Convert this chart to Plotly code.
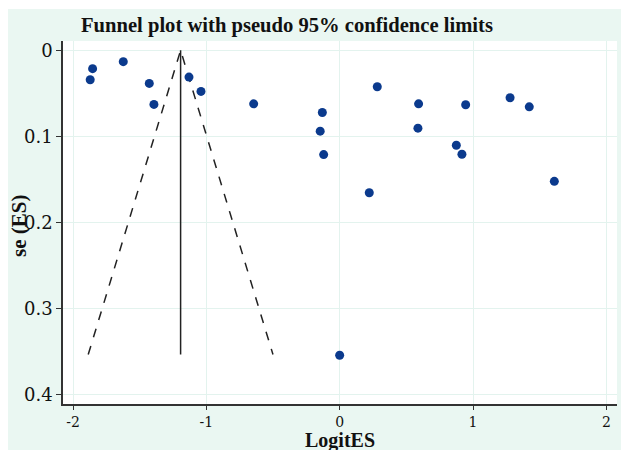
import plotly.graph_objects as go

# Study data: logit effect size and its standard error
logit_es = [-1.853, -1.871, -1.623, -1.428, -1.393, -1.130, -1.040, -0.645,
            -0.130, -0.146, -0.120, 0.282, 0.222, 0.592, 0.587, 0.945,
            0.875, 0.917, 1.278, 1.422, 1.610, 0.000]
se_es = [0.0213, 0.0342, 0.0132, 0.0385, 0.0629, 0.0311, 0.0478, 0.0622,
         0.0723, 0.0940, 0.1212, 0.0423, 0.1655, 0.0622, 0.0905, 0.0633,
         0.1103, 0.1208, 0.0552, 0.0657, 0.1523, 0.3543]

# Funnel (pseudo 95% limits)
pooled = -1.193
se_max = 0.3535
z95 = 1.96

x_ticks = [-2, -1, 0, 1, 2]
x_ticklabels = ["-2", "-1", "0", "1", "2"]
y_ticks = [0, 0.1, 0.2, 0.3, 0.4]
y_ticklabels = ["0", "0.1", "0.2", "0.3", "0.4"]

MINT = "#eaf7f2"
GRID = "#e3f3ee"
FONT = "Liberation Serif"
TICKFONT = "DejaVu Serif"
AX = "#333333"

fig = go.Figure()

fig.add_trace(go.Scatter(
    x=[pooled - z95 * se_max, pooled, pooled + z95 * se_max],
    y=[se_max, 0, se_max],
    mode="lines", line=dict(color="#222222", width=1.5, dash="dash"),
    hoverinfo="skip", showlegend=False))
fig.add_trace(go.Scatter(
    x=[pooled, pooled], y=[0, se_max],
    mode="lines", line=dict(color="#222222", width=1.5),
    hoverinfo="skip", showlegend=False))
fig.add_trace(go.Scatter(
    x=logit_es, y=se_es, mode="markers",
    marker=dict(color="#0b3a8d", size=9),
    showlegend=False))

W, H = 621, 450
L, R, T, B = 63, 4, 41, 46
pw, ph = W - L - R, H - T - B

def px_x(px):
    return (px - L) / pw

def px_y(py):
    return (H - B - py) / ph

fig.update_layout(
    width=W, height=H,
    margin=dict(l=L, r=R, t=T, b=B),
    paper_bgcolor=MINT,
    plot_bgcolor="white",
    font=dict(family=FONT, size=18, color="#111111"),
    showlegend=False,
    shapes=[
        dict(type="rect", xref="paper", yref="paper", layer="below",
             x0=px_x(0), x1=px_x(W), y0=px_y(9), y1=px_y(0),
             fillcolor="white", line=dict(width=0)),
        dict(type="rect", xref="paper", yref="paper", layer="below",
             x0=px_x(0), x1=px_x(8), y0=px_y(H), y1=px_y(0),
             fillcolor="white", line=dict(width=0)),
    ],
    annotations=[
        dict(text="<b>Funnel plot with pseudo 95% confidence limits</b>",
             xref="paper", yref="paper", x=px_x(287), y=px_y(26),
             xanchor="center", yanchor="middle", showarrow=False,
             font=dict(family=FONT, size=20.6, color="#111111")),
        dict(text="<b>se (ES)</b>", textangle=-90,
             xref="paper", yref="paper", x=px_x(19), y=px_y(226),
             xanchor="center", yanchor="middle", showarrow=False,
             font=dict(family=FONT, size=21, color="#111111")),
        dict(text="<b>LogitES</b>",
             xref="paper", yref="paper", x=px_x(340), y=px_y(440),
             xanchor="center", yanchor="middle", showarrow=False,
             font=dict(family=FONT, size=20, color="#111111")),
    ],
)

fig.update_xaxes(
    range=[-2.075, 2.08], tickvals=x_ticks, ticktext=x_ticklabels,
    showgrid=True, gridcolor=GRID, gridwidth=1, zeroline=False,
    showline=True, linecolor=AX, linewidth=1.5,
    ticks="outside", ticklen=4, tickcolor=AX, tickwidth=1.2,
    ticklabelstandoff=0,
    tickfont=dict(family=TICKFONT, size=14))
fig.update_yaxes(
    range=[0.411, -0.0108], tickvals=y_ticks, ticktext=y_ticklabels,
    showgrid=True, gridcolor=GRID, gridwidth=1, zeroline=False,
    showline=True, linecolor=AX, linewidth=1.5,
    ticks="outside", ticklen=5, tickcolor=AX, tickwidth=1.2,
    tickfont=dict(family=TICKFONT, size=18))

fig.write_html("out.html")
